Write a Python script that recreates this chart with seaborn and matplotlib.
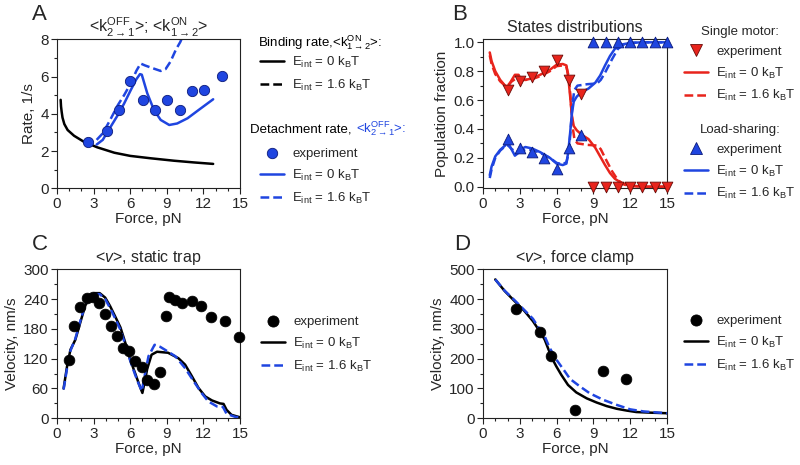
import matplotlib
matplotlib.use("Agg")
import matplotlib.pyplot as plt
from matplotlib.lines import Line2D
from matplotlib.ticker import MultipleLocator
import seaborn as sns

# ---- Panel A: rates ----
force_a_exp = [2.55, 4.1, 5.05, 6.0, 7.05, 8.05, 9.05, 10.1, 11.05, 12.05, 13.55]
rate_a_exp = [2.5, 3.1, 4.2, 5.75, 4.75, 4.22, 4.76, 4.2, 5.2, 5.28, 6.02]

force_bind = [0.3, 0.33, 0.38, 0.45, 0.6, 0.87, 1.4, 2.2, 3.3, 4.7, 6.0, 7.7, 9.6, 11.2, 12.8]
rate_bind = [4.75, 4.4, 4.12, 3.8, 3.45, 3.13, 2.82, 2.5, 2.2, 1.91, 1.74, 1.61, 1.48, 1.39, 1.31]

force_off0 = [3.25, 3.75, 4.3, 5.0, 5.5, 6.05, 6.5, 6.8, 6.95, 7.4, 7.95, 8.5, 9.2, 9.85, 10.7, 11.6, 12.8]
rate_off0 = [2.35, 2.6, 3.2, 3.95, 4.55, 5.28, 5.85, 6.13, 6.1, 5.1, 4.2, 3.67, 3.40, 3.48, 3.76, 4.2, 4.78]

force_off16 = [3.25, 3.75, 4.3, 5.0, 5.5, 6.05, 6.5, 6.85, 7.2, 7.7, 8.5, 8.9, 9.3, 9.75, 10.1, 10.4]
rate_off16 = [2.6, 2.95, 3.6, 4.48, 5.0, 5.64, 6.3, 6.7, 6.6, 6.48, 6.3, 6.4, 6.8, 7.45, 7.85, 8.3]

# ---- Panel B: state distributions ----
force_b_exp = [2, 3, 4, 5, 6, 7, 8, 9, 10, 11, 12, 13, 14, 15]
single_exp = [0.67, 0.73, 0.76, 0.80, 0.88, 0.74, 0.64, 0, 0, 0, 0, 0, 0, 0]
load_exp = [0.33, 0.27, 0.24, 0.20, 0.12, 0.27, 0.36, 1, 1, 1, 1, 1, 1, 1]

force_b0 = [0.55, 0.7, 1.0, 1.4, 1.8, 2.0, 2.35, 2.6, 2.9, 3.1, 3.45, 4.0, 4.65, 5.45, 6.0, 6.5,
            6.8, 6.95, 7.1, 7.25, 7.4, 7.65, 8.05, 8.6, 9.15, 9.55, 9.95, 10.35, 10.75, 11.3, 12.1, 13, 15]
single0 = [0.93, 0.87, 0.80, 0.74, 0.70, 0.69, 0.74, 0.775, 0.775, 0.74, 0.74, 0.75, 0.775, 0.81, 0.845, 0.85,
           0.84, 0.76, 0.63, 0.49, 0.42, 0.39, 0.36, 0.33, 0.27, 0.21, 0.15, 0.095, 0.055, 0.025, 0.008, 0.0, 0.0]
load0 = [0.08, 0.14, 0.21, 0.255, 0.285, 0.31, 0.255, 0.215, 0.235, 0.26, 0.275, 0.265, 0.24, 0.20, 0.16, 0.15,
         0.16, 0.24, 0.37, 0.51, 0.59, 0.625, 0.655, 0.68, 0.72, 0.77, 0.84, 0.905, 0.955, 0.985, 0.997, 1.0, 1.0]

force_b16 = [0.55, 0.7, 1.0, 1.4, 1.8, 2.0, 2.35, 2.7, 3.0, 3.5, 4.0, 4.65, 5.45, 6.0, 6.5, 6.8,
             7.0, 7.15, 7.3, 7.45, 7.7, 8.5, 9.3, 9.6, 9.95, 10.5, 11.0, 11.5, 12, 13, 15]
single16 = [0.91, 0.85, 0.78, 0.73, 0.70, 0.70, 0.73, 0.75, 0.745, 0.74, 0.745, 0.765, 0.80, 0.835, 0.84, 0.83,
            0.76, 0.60, 0.42, 0.33, 0.30, 0.29, 0.285, 0.26, 0.20, 0.11, 0.045, 0.015, 0.005, 0.0, 0.0]
load16 = [0.06, 0.12, 0.20, 0.25, 0.28, 0.29, 0.26, 0.24, 0.245, 0.255, 0.255, 0.235, 0.20, 0.165, 0.155, 0.17,
          0.24, 0.40, 0.58, 0.67, 0.70, 0.71, 0.715, 0.74, 0.79, 0.88, 0.955, 0.985, 0.995, 1.0, 1.0]

# ---- Panel C: velocity, static trap ----
force_c_exp = [0.95, 1.42, 1.91, 2.45, 2.95, 3.43, 3.92, 4.41, 4.91, 5.4, 5.89, 6.41, 6.93, 7.4, 7.93,
               8.43, 8.92, 9.16, 9.68, 10.28, 11.05, 11.78, 12.62, 13.77, 14.95]
vel_c_exp = [118, 185, 225, 242, 244, 232, 210, 186, 165, 141, 135, 116, 104, 77, 69,
             94, 206, 244, 238, 232, 237, 226, 204, 196, 164]

force_c0 = [0.54, 0.82, 1.1, 1.5, 1.9, 2.3, 2.7, 3.1, 3.5, 3.95, 4.35, 4.75, 5.2, 5.6, 6.0, 6.4, 6.75,
            7.0, 7.2, 7.4, 7.75, 8.2, 9.1, 9.95, 10.5, 11.05, 11.6, 12.15, 12.7, 13.35, 13.65, 13.9, 14.3, 15.0]
vel_c0 = [60, 104, 138, 158, 192, 226, 245, 252, 252, 243, 226, 206, 183, 152, 118, 91, 67,
          51, 75, 100, 128, 134, 132, 121, 108, 85, 61, 44, 36, 30, 29, 17, 7, 2]

force_c16 = [0.54, 0.82, 1.1, 1.5, 1.9, 2.3, 2.7, 3.1, 3.5, 3.95, 4.35, 4.75, 5.2, 5.6, 6.0, 6.4, 6.75,
             6.95, 7.2, 7.5, 8.0, 8.45, 8.85, 9.7, 10.5, 11.3, 11.85, 12.4, 13.1, 13.6, 13.9, 14.6, 15.0]
vel_c16 = [58, 100, 136, 160, 195, 228, 246, 250, 250, 240, 222, 202, 178, 148, 116, 88, 66,
           55, 88, 125, 148, 144, 138, 125, 101, 71, 51, 34, 24, 23, 9, 3, 2]

# ---- Panel D: velocity, force clamp ----
force_d_exp = [2.66, 4.67, 5.57, 7.48, 9.81, 11.65]
vel_d_exp = [368, 291, 208, 28, 160, 131]

force_d0 = [1.0, 1.77, 2.58, 3.4, 4.07, 4.62, 5.03, 5.35, 5.62, 5.98, 6.38, 6.93, 7.6, 8.45, 9.26,
            10.08, 10.9, 11.7, 12.5, 13.6, 15.0]
vel_d0 = [466, 427, 393, 359, 326, 292, 264, 230, 202, 174, 146, 112, 87, 67, 53, 41, 32, 26, 21, 19, 17]

force_d16 = [1.0, 1.77, 2.58, 3.4, 4.07, 4.6, 5.03, 5.44, 5.98, 6.66, 7.1, 7.9, 8.7, 9.8, 10.9, 12.0,
             13.1, 14.2, 15.0]
vel_d16 = [466, 428, 396, 362, 334, 300, 275, 236, 197, 158, 132, 107, 84, 62, 45, 30, 23, 19.6, 17]

# labels
lbl_e0 = r"E$_{\rm int}$ = 0 k$_{\rm B}$T"
lbl_e16 = r"E$_{\rm int}$ = 1.6 k$_{\rm B}$T"

# colors
BLUE = "#1f45e0"
BLUE_EDGE = "#0b1a7a"
RED = "#e8241c"
RED_EDGE = "#6a0c08"
LW = 1.8
DASH = (0, (3.5, 1.6))
LEG_FS = 9.5

sns.set_style("ticks")
plt.rcParams["font.family"] = ["Liberation Sans", "DejaVu Sans"]
plt.rcParams["mathtext.fontset"] = "custom"
plt.rcParams["mathtext.rm"] = "Liberation Sans"
plt.rcParams["mathtext.it"] = "Liberation Sans:italic"
plt.rcParams["mathtext.bf"] = "Liberation Sans:bold"
plt.rcParams["mathtext.default"] = "regular"

fig = plt.figure(figsize=(8, 4.65), dpi=100)
W, H = 800, 465


def add_axes(x0, y_top, y_bot, x1):
    return fig.add_axes([x0 / W, 1 - y_bot / H, (x1 - x0) / W, (y_bot - y_top) / H])


def style_axes(ax, ylim, ymaj, ymin, ylabel, title):
    ax.set_xlim(0, 15)
    ax.set_ylim(*ylim)
    ax.xaxis.set_major_locator(MultipleLocator(3))
    ax.xaxis.set_minor_locator(MultipleLocator(1))
    ax.yaxis.set_major_locator(MultipleLocator(ymaj))
    ax.yaxis.set_minor_locator(MultipleLocator(ymin))
    ax.tick_params(which="both", direction="out", top=False, right=False,
                   labelsize=11, width=0.8, color="#222222", pad=2)
    ax.tick_params(which="major", length=4)
    ax.tick_params(which="minor", length=2.5)
    for s in ax.spines.values():
        s.set_visible(True)
        s.set_linewidth(0.8)
        s.set_color("#222222")
    ax.set_xlabel("Force, pN", fontsize=11, labelpad=1)
    ax.set_ylabel(ylabel, fontsize=11, labelpad=3)
    ax.set_title(title, fontsize=11.5, pad=5)


def line(ax, x, y, color, ls="-"):
    sns.lineplot(x=x, y=y, ax=ax, color=color, lw=LW, linestyle=ls,
                 estimator=None, sort=False, zorder=2)


def h_line(color, ls="-"):
    return Line2D([], [], color=color, lw=LW, linestyle=ls)


def h_mark(marker, face, edge, ms=7.5):
    return Line2D([], [], ls="none", marker=marker, markersize=ms,
                  markerfacecolor=face, markeredgecolor=edge, markeredgewidth=0.6)


def header(x, y, s, color="black"):
    return fig.text(x / W, 1 - y / H, s, fontsize=LEG_FS, va="baseline", color=color)


leg_kw = dict(frameon=False, fontsize=LEG_FS, borderpad=0, borderaxespad=0,
              handlelength=1.8, handletextpad=0.65, labelspacing=0.58,
              bbox_transform=fig.transFigure, loc="upper left")

# ---------------- Panel A ----------------
axA = add_axes(57, 39.3, 188.3, 240)
line(axA, force_bind, rate_bind, "black")
line(axA, force_off0, rate_off0, BLUE)
line(axA, force_off16, rate_off16, BLUE, DASH)
sns.scatterplot(x=force_a_exp, y=rate_a_exp, ax=axA, color=BLUE, edgecolor=BLUE_EDGE,
                linewidth=0.6, s=55, marker="o", zorder=3)
style_axes(axA, (0, 8), 2, 1, "Rate, 1/s",
           r"<k$_{2\rightarrow1}^{\rm OFF}$>; <k$_{1\rightarrow2}^{\rm ON}$>")

header(258, 46, r"Binding rate,<k$_{1\rightarrow2}^{\rm ON}$>:")
legA1 = axA.legend([h_line("black"), h_line("black", DASH)], [lbl_e0, lbl_e16],
                   bbox_to_anchor=(260 / W, 1 - 55 / H), **leg_kw)
axA.add_artist(legA1)
axA.legend([h_mark("o", BLUE, BLUE_EDGE), h_line(BLUE), h_line(BLUE, DASH)],
           ["experiment", lbl_e0, lbl_e16],
           bbox_to_anchor=(260 / W, 1 - 148 / H), **leg_kw)
t_det = header(250, 133, "Detachment rate,")

# ---------------- Panel B ----------------
axB = add_axes(483, 39.3, 188.3, 667)
line(axB, force_b0, single0, RED)
line(axB, force_b16, single16, RED, DASH)
line(axB, force_b0, load0, BLUE)
line(axB, force_b16, load16, BLUE, DASH)
sns.scatterplot(x=force_b_exp, y=single_exp, ax=axB, color=RED, edgecolor=RED_EDGE,
                linewidth=0.6, s=60, marker="v", zorder=3, clip_on=False)
sns.scatterplot(x=force_b_exp, y=load_exp, ax=axB, color=BLUE, edgecolor=BLUE_EDGE,
                linewidth=0.6, s=60, marker="^", zorder=3, clip_on=False)
style_axes(axB, (-0.011, 1.021), 0.2, 0.1, "Population fraction", "States distributions")

legB1 = axB.legend([h_mark("v", RED, RED_EDGE, 8), h_line(RED), h_line(RED, DASH)],
                   ["experiment", lbl_e0, lbl_e16], title="Single motor:",
                   bbox_to_anchor=(684 / W, 1 - 26 / H),
                   title_fontproperties={"size": LEG_FS}, **leg_kw)
axB.add_artist(legB1)
axB.legend([h_mark("^", BLUE, BLUE_EDGE, 8), h_line(BLUE), h_line(BLUE, DASH)],
           ["experiment", lbl_e0, lbl_e16], title="Load-sharing:",
           bbox_to_anchor=(684 / W, 1 - 124 / H),
           title_fontproperties={"size": LEG_FS}, **leg_kw)

# ---------------- Panel C ----------------
axC = add_axes(57, 269.3, 418.3, 240)
line(axC, force_c0, vel_c0, "black")
line(axC, force_c16, vel_c16, BLUE, DASH)
sns.scatterplot(x=force_c_exp, y=vel_c_exp, ax=axC, color="black", edgecolor="black",
                linewidth=0.5, s=60, marker="o", zorder=3, clip_on=False)
style_axes(axC, (0, 300), 60, 30, "Velocity, nm/s", r"<$\mathit{v}$>, static trap")
axC.legend([h_mark("o", "black", "black", 8), h_line("black"), h_line(BLUE, DASH)],
           ["experiment", lbl_e0, lbl_e16],
           bbox_to_anchor=(261 / W, 1 - 316 / H), **leg_kw)

# ---------------- Panel D ----------------
axD = add_axes(483, 269.3, 418.3, 667)
line(axD, force_d0, vel_d0, "black")
line(axD, force_d16, vel_d16, BLUE, DASH)
sns.scatterplot(x=force_d_exp, y=vel_d_exp, ax=axD, color="black", edgecolor="black",
                linewidth=0.5, s=60, marker="o", zorder=3)
style_axes(axD, (0, 500), 100, 50, "Velocity, nm/s", r"<$\mathit{v}$>, force clamp")
axD.legend([h_mark("o", "black", "black", 8), h_line("black"), h_line(BLUE, DASH)],
           ["experiment", lbl_e0, lbl_e16],
           bbox_to_anchor=(684 / W, 1 - 315 / H), **leg_kw)

# panel letters
for x, y, s in [(32, 4, "A"), (452, 4, "B"), (32, 234, "C"), (454, 234, "D")]:
    fig.text(x / W, 1 - y / H, s, fontsize=16, va="top")

# blue part of the detachment-rate header, placed right after the black text
fig.canvas.draw()
bb = t_det.get_window_extent()
fig.text((bb.x1 + 4) / W, 1 - 133 / H, r"<k$_{2\rightarrow1}^{\rm OFF}$>:",
         fontsize=LEG_FS, va="baseline", color=BLUE)

fig.savefig("out.png", dpi=100)
